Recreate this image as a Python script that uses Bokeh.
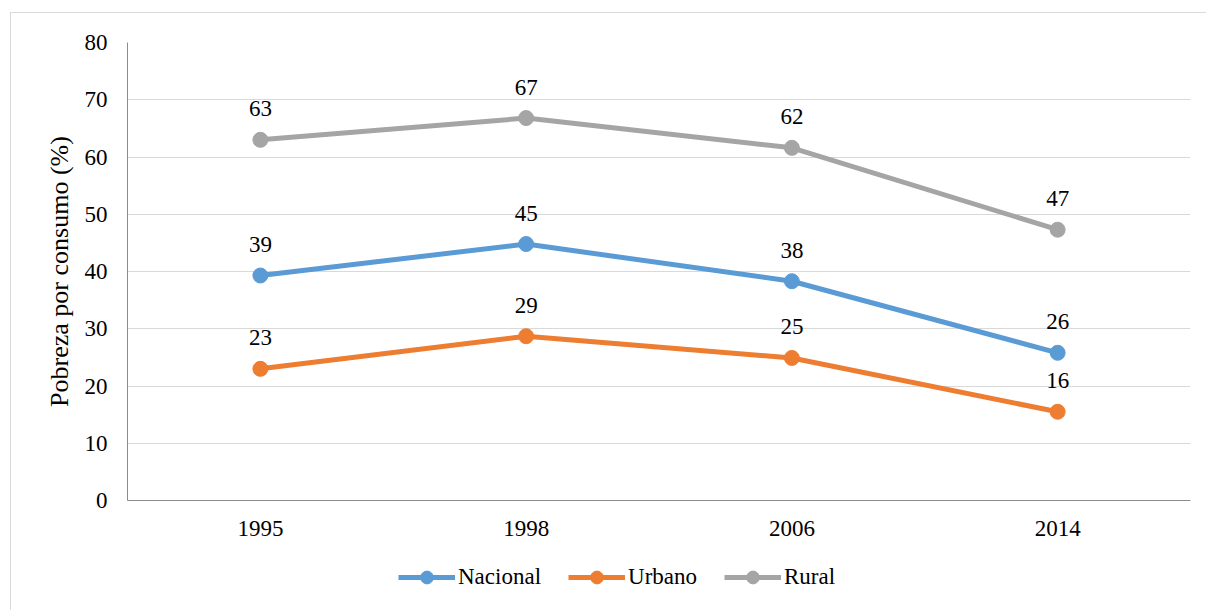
from bokeh.plotting import figure
from bokeh.models import (ColumnDataSource, FactorRange, Range1d, FixedTicker,
                          LabelSet, Legend, LegendItem)
from bokeh.layouts import column
from bokeh.embed import file_html
from bokeh.resources import INLINE

years = ["1995", "1998", "2006", "2014"]
nacional = [39.3, 44.8, 38.3, 25.8]
urbano = [23.0, 28.7, 24.9, 15.5]
rural = [63.0, 66.8, 61.6, 47.3]
nacional_lbl = ["39", "45", "38", "26"]
urbano_lbl = ["23", "29", "25", "16"]
rural_lbl = ["63", "67", "62", "47"]
y_ticks = [0, 10, 20, 30, 40, 50, 60, 70, 80]

FONT = "Liberation Serif"
FS = "23px"

p = figure(width=1195, height=545, x_range=FactorRange(*years),
           y_range=Range1d(0, 80), output_backend="svg", toolbar_location=None,
           min_border_left=116, min_border_right=16, min_border_top=29,
           min_border_bottom=58)
p.outline_line_color = None

p.xgrid.grid_line_color = None
p.ygrid.grid_line_color = "#d9d9d9"
p.ygrid.grid_line_width = 1
p.yaxis.ticker = FixedTicker(ticks=y_ticks)

for ax in (p.xaxis, p.yaxis):
    ax.axis_line_color = "#8c8c8c"
    ax.axis_line_width = 1
    ax.major_tick_line_color = None
    ax.minor_tick_line_color = None
    ax.major_label_text_font = FONT
    ax.major_label_text_font_size = FS
    ax.major_label_text_color = "#000000"
p.xaxis.major_label_standoff = 14
p.yaxis.major_label_standoff = 14
p.yaxis.axis_label = "Pobreza por consumo (%)"
p.yaxis.axis_label_text_font = FONT
p.yaxis.axis_label_text_font_size = "26px"
p.yaxis.axis_label_text_font_style = "normal"
p.yaxis.axis_label_text_color = "#000000"
p.yaxis.axis_label_standoff = 8

series = [("Nacional", nacional, nacional_lbl, "#5B9BD5"),
          ("Urbano", urbano, urbano_lbl, "#ED7D31"),
          ("Rural", rural, rural_lbl, "#A5A5A5")]

# legend strip below the chart
p2 = figure(width=1195, height=52, x_range=Range1d(0, 1), y_range=Range1d(0, 1),
            output_backend="svg", toolbar_location=None,
            min_border_left=116, min_border_right=16, min_border_top=0,
            min_border_bottom=0)
p2.axis.visible = False
p2.grid.grid_line_color = None
p2.outline_line_color = None

items = []
for name, vals, lbls, color in series:
    src = ColumnDataSource(dict(x=years, y=vals, lbl=lbls))
    p.line("x", "y", source=src, line_color=color, line_width=5)
    p.scatter("x", "y", source=src, size=15, fill_color=color,
              line_color=color)
    labels = LabelSet(x="x", y="y", text="lbl", source=src, y_offset=31,
                      text_align="center", text_baseline="middle",
                      text_font=FONT, text_font_size=FS,
                      text_color="#000000")
    p.add_layout(labels)
    lsrc = ColumnDataSource(dict(x=[float("nan")], y=[float("nan")]))
    ln2 = p2.line("x", "y", source=lsrc, line_color=color, line_width=5)
    mk2 = p2.scatter("x", "y", source=lsrc, size=15, fill_color=color,
                     line_color=color)
    items.append(LegendItem(label=name, renderers=[ln2, mk2]))

legend = Legend(items=items, orientation="horizontal", location=(271, 17),
                glyph_width=57, glyph_height=32, label_standoff=3, spacing=27,
                label_text_font=FONT, label_text_font_size=FS,
                label_text_color="#000000", border_line_color=None,
                background_fill_alpha=0, padding=0, margin=0)
p2.add_layout(legend)

layout = column(p, p2, spacing=0,
                styles={"margin-left": "10px", "margin-top": "12px",
                        "border-left": "1px solid #d9d9d9",
                        "border-top": "1px solid #d9d9d9"})

open("out.html", "w").write(file_html(layout, INLINE))
